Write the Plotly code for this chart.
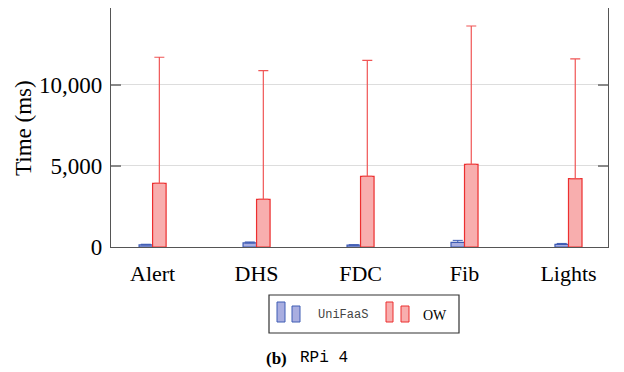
import plotly.graph_objects as go

categories = ["Alert", "DHS", "FDC", "Fib", "Lights"]
unifaas_vals = [130, 250, 110, 280, 160]
unifaas_err = [40, 60, 30, 130, 60]
ow_vals = [3930, 2940, 4360, 5100, 4220]
ow_err = [7780, 7940, 7160, 8540, 7390]
ytick_vals = [0, 5000, 10000]
ytick_text = ["0", "5,000", "10,000"]

BLUE_FILL = "#a9aee0"
BLUE_EDGE = "#3f5cb4"
RED_FILL = "#f8aeae"
RED_EDGE = "#ec2f2f"

# page body has an 8px default margin; figure drawn at offset (8, 8)
OFF = 8
FW, FH = 624 - OFF, 372 - OFF

fig = go.Figure()
fig.add_trace(go.Bar(
    x=categories, y=unifaas_vals, name="UniFaaS",
    marker=dict(color=BLUE_FILL, line=dict(color=BLUE_EDGE, width=1.2)),
    error_y=dict(type="data", array=unifaas_err, arrayminus=[0]*5, symmetric=False,
                 color=BLUE_EDGE, thickness=1, width=5),
))
fig.add_trace(go.Bar(
    x=categories, y=ow_vals, name="OW",
    marker=dict(color=RED_FILL, line=dict(color=RED_EDGE, width=1.2)),
    error_y=dict(type="data", array=ow_err, arrayminus=[0]*5, symmetric=False,
                 color="#f05555", thickness=1.2, width=5),
))

# page pixel coordinates of plot area
L, R, T, B = 111, 608, 8, 247
W, H = R - L, B - T
def px(X):
    return (X - L) / W
def py(Y):
    return (B - Y) / H

shapes = [
    dict(type="rect", xref="paper", yref="paper", x0=px(269), x1=px(459), y0=py(333), y1=py(295),
         line=dict(color="#333333", width=1.2), fillcolor="white"),
]
for (x0, x1, y0, y1, fc, lc) in [
    (277, 285, 302, 322, BLUE_FILL, BLUE_EDGE),
    (292, 300, 306, 322, BLUE_FILL, BLUE_EDGE),
    (386, 393, 302, 322, RED_FILL, RED_EDGE),
    (401, 409, 306, 322, RED_FILL, RED_EDGE),
]:
    shapes.append(dict(type="rect", xref="paper", yref="paper", x0=px(x0), x1=px(x1),
                       y0=py(y1), y1=py(y0), fillcolor=fc, line=dict(color=lc, width=1)))

annotations = [
    dict(text="Time (ms)", xref="paper", yref="paper", x=px(23), y=py(128), textangle=-90,
         showarrow=False, font=dict(family="Liberation Serif", size=23, color="black"),
         xanchor="center", yanchor="middle"),
    dict(text="UniFaaS", xref="paper", yref="paper", x=px(343), y=py(315), showarrow=False,
         font=dict(family="Liberation Mono", size=12, color="#444444"), xanchor="center", yanchor="middle"),
    dict(text="OW", xref="paper", yref="paper", x=px(435), y=py(315), showarrow=False,
         font=dict(family="Liberation Serif", size=14, color="black"), xanchor="center", yanchor="middle"),
    dict(text="(b)", xref="paper", yref="paper",
         x=px(276), y=py(358), showarrow=False,
         font=dict(family="Liberation Serif", size=17, color="black", weight="bold"),
         xanchor="center", yanchor="middle"),
    dict(text="RPi 4", xref="paper", yref="paper",
         x=px(324), y=py(358), showarrow=False,
         font=dict(family="Liberation Mono", size=16, color="black"),
         xanchor="center", yanchor="middle"),
]

fig.update_layout(
    width=FW, height=FH,
    margin=dict(l=L - OFF, r=624 - R, t=T - OFF, b=372 - B, autoexpand=False),
    paper_bgcolor="white", plot_bgcolor="white",
    barmode="group", bargap=0.74, bargroupgap=0,
    showlegend=False,
    shapes=shapes, annotations=annotations,
    font=dict(family="Liberation Serif", color="black"),
)
fig.update_xaxes(
    range=[-0.4, 4.38], showline=True, linecolor="#555555", linewidth=1.2, mirror=True,
    ticks="", tickfont=dict(family="Liberation Serif", size=22, color="black"),
    ticklabelstandoff=6, showgrid=False,
)
fig.update_yaxes(
    range=[0, 14750], tickvals=ytick_vals, ticktext=ytick_text,
    showline=True, linecolor="#555555", linewidth=1.2, mirror="allticks",
    ticks="inside", ticklen=10, tickcolor="#888888", tickwidth=1.5,
    showgrid=True, gridcolor="#dddddd", gridwidth=1.2, zeroline=False,
    tickfont=dict(family="Liberation Serif", size=23, color="black"),
    ticklabelstandoff=3,
)

fig.write_html("out.html")
